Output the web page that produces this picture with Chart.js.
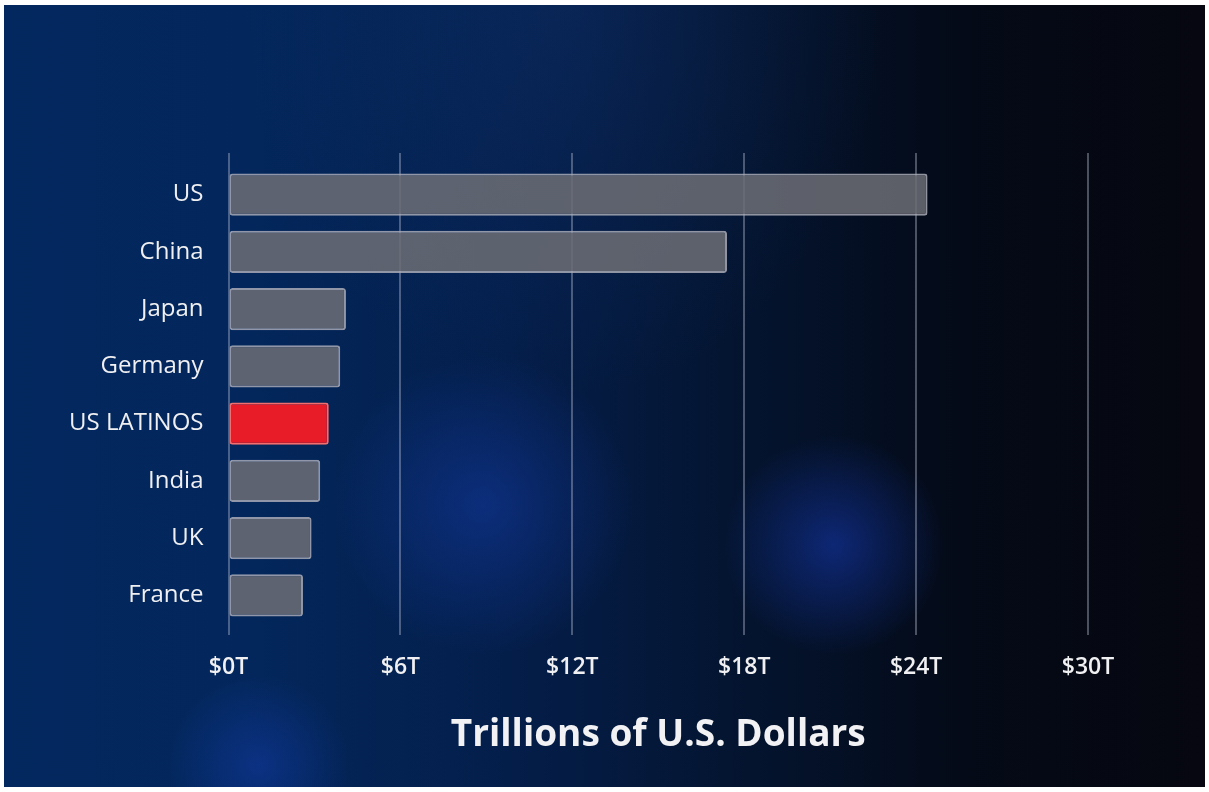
<!DOCTYPE html>
<html>
<head>
<meta charset="utf-8">
<script src="https://cdn.jsdelivr.net/npm/chart.js@4.4.0/dist/chart.umd.min.js"></script>
<style>
  html, body { margin: 0; padding: 0; background: #ffffff; }
  #bg {
    position: absolute; left: 4px; top: 5px; width: 1201px; height: 782px;
    background:
      radial-gradient(circle at 480px 500px, rgba(20,60,170,0.5) 0px, rgba(20,60,170,0) 150px),
      radial-gradient(circle at 830px 540px, rgba(20,55,170,0.6) 0px, rgba(20,55,170,0) 110px),
      radial-gradient(circle at 255px 760px, rgba(20,60,170,0.5) 0px, rgba(20,60,170,0) 90px),
      radial-gradient(ellipse at 560px 0px, rgba(20,60,130,0.3) 0px, rgba(20,60,130,0) 320px),
      linear-gradient(to right, #03285f 0%, #03275c 20%, #041e4a 42%, #04142f 62%, #040a17 80%, #060710 100%);
  }
  #wrap { position: absolute; left: 0; top: 0; width: 1209px; height: 792px; }
</style>
</head>
<body>
<div id="bg"></div>
<div id="wrap"><canvas id="chart"></canvas></div>
<script>
// данные
const countries = ['US', 'China', 'Japan', 'Germany', 'US LATINOS', 'India', 'UK', 'France'];
const gdpTrillions = [24.4, 17.4, 4.1, 3.9, 3.5, 3.2, 2.9, 2.6];
const xTicks = [0, 6, 12, 18, 24, 30];
const highlight = 'US LATINOS';

let canvas = document.getElementById('chart');
let context = canvas.getContext('2d');

const greyFill = 'rgba(108, 109, 116, 0.86)';
const greyBorder = 'rgba(170, 172, 182, 0.85)';
const redFill = 'rgb(232, 28, 40)';
const redBorder = 'rgb(245, 110, 110)';
const gridColor = 'rgba(175, 182, 200, 0.42)';

// верхние хвостики вертикальных линий сетки
const gridTops = {
  id: 'gridTops',
  beforeDatasetsDraw(chart) {
    const {ctx, chartArea, scales} = chart;
    ctx.save();
    ctx.strokeStyle = gridColor;
    ctx.lineWidth = 2;
    xTicks.forEach(v => {
      const x = Math.round(scales.x.getPixelForValue(v));
      ctx.beginPath();
      ctx.moveTo(x, chartArea.top - 13);
      ctx.lineTo(x, chartArea.top);
      ctx.stroke();
    });
    ctx.restore();
  }
};

let chart = new Chart(context, {
  type: 'bar',
  data: {
    labels: countries,
    datasets: [{
      data: gdpTrillions,
      backgroundColor: countries.map(c => c === highlight ? redFill : greyFill),
      borderColor: countries.map(c => c === highlight ? redBorder : greyBorder),
      borderWidth: 2,
      borderRadius: 3,
      borderSkipped: false,
      categoryPercentage: 1,
      barPercentage: 0.735
    }]
  },
  options: {
    indexAxis: 'y',
    responsive: true,
    maintainAspectRatio: false,
    animation: false,
    layout: {
      padding: { left: 0, top: 166, right: 121, bottom: 0 }
    },
    plugins: {
      legend: { display: false },
      tooltip: { enabled: false }
    },
    scales: {
      x: {
        min: 0,
        max: 30,
        afterBuildTicks: (scale) => { scale.ticks = xTicks.map(v => ({value: v})); },
        afterFit: (scale) => { scale.height = 168; },
        grid: {
          color: gridColor,
          lineWidth: 2,
          drawTicks: true,
          tickLength: 11,
          tickColor: gridColor
        },
        border: { display: false },
        ticks: {
          color: '#f0f0f2',
          padding: 19,
          font: { family: 'Open Sans', size: 23, weight: 600 },
          callback: (v) => '$' + v + 'T'
        },
        title: {
          display: true,
          text: 'Trillions of U.S. Dollars',
          color: '#f2f2f4',
          font: { family: 'Open Sans', size: 37, weight: 'bold' },
          padding: { top: 0, bottom: 34 }
        }
      },
      y: {
        afterFit: (scale) => { scale.width = 228.5; },
        grid: { display: false, drawTicks: false },
        border: { display: false },
        ticks: {
          color: '#f0f0f2',
          padding: 25,
          font: { family: 'Open Sans', size: 24, weight: 500 }
        }
      }
    }
  },
  plugins: [gridTops]
});
</script>
</body>
</html>
